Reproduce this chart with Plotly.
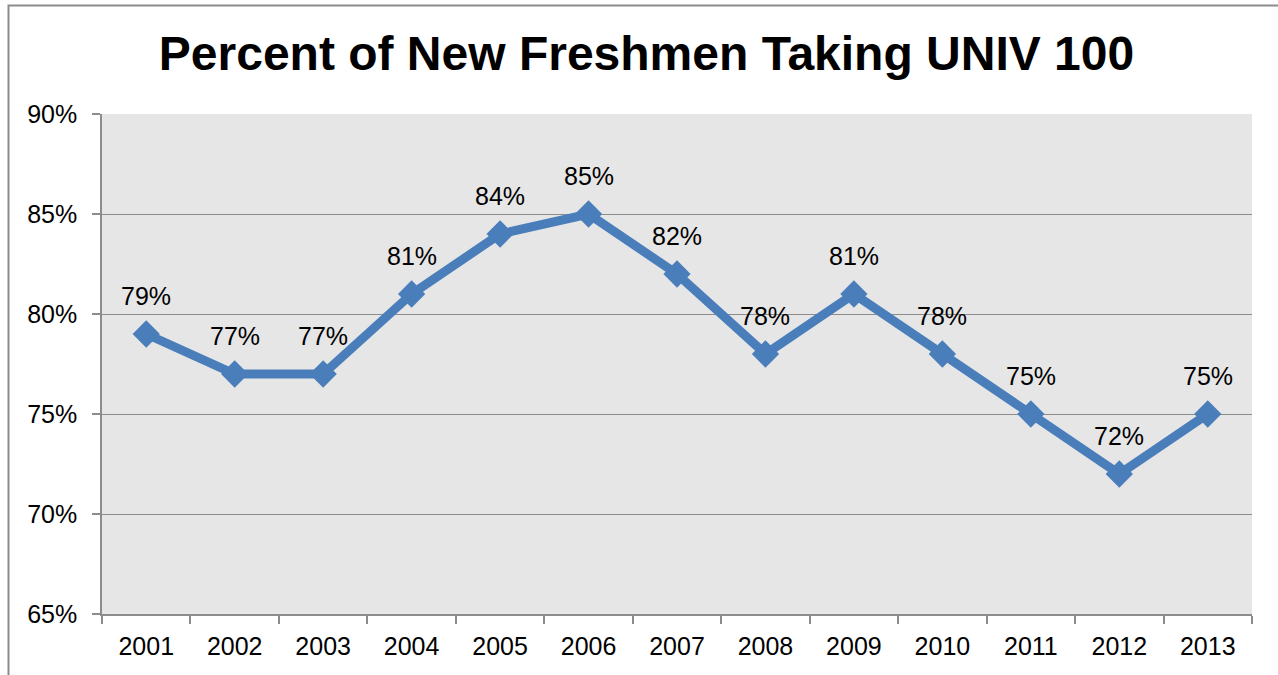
import plotly.graph_objects as go

years = ["2001", "2002", "2003", "2004", "2005", "2006", "2007",
         "2008", "2009", "2010", "2011", "2012", "2013"]
pct = [79, 77, 77, 81, 84, 85, 82, 78, 81, 78, 75, 72, 75]
labels = [f"{v}%" for v in pct]
y_ticks = [65, 70, 75, 80, 85, 90]
y_ticktext = [f"{v}%" for v in y_ticks]

W, H = 1278, 675
L, T = 102, 114
R = W - 1252
B = H - 614

fig = go.Figure()
fig.add_trace(go.Scatter(
    x=years, y=pct, mode="lines+markers",
    line=dict(color="#4A7EBB", width=9),
    marker=dict(symbol="diamond", size=21, color="#4A7EBB"),
    showlegend=False, hoverinfo="skip",
))

for i, (y, t) in enumerate(zip(pct, labels)):
    fig.add_annotation(x=i, y=y, text=t, showarrow=False, yshift=38,
                       xref="x", yref="y",
                       font=dict(family="Liberation Sans, Arial", size=25, color="#000000"))

pw = W - L - R
ph = H - T - B
bx, by = 8.5, 5.5
fig.add_shape(type="rect", xref="paper", yref="paper",
              x0=(bx - L) / pw, x1=(W + 30 - L) / pw,
              y0=-(H + 30 - (H - B)) / ph, y1=((H - B) - by) / ph,
              line=dict(color="#8C8C8C", width=2), fillcolor="rgba(0,0,0,0)", layer="below")

fig.update_layout(
    width=W, height=H,
    margin=dict(l=L, r=R, t=T, b=B),
    paper_bgcolor="#FFFFFF",
    plot_bgcolor="#E6E6E6",
    title=dict(text="<b>Percent of New Freshmen Taking UNIV 100</b>",
               x=646.5 / W, xanchor="center", xref="container",
               y=1 - 53 / H, yanchor="middle", yref="container",
               font=dict(family="Liberation Sans, Arial", size=48, color="#000000")),
    font=dict(family="Liberation Sans, Arial", size=25, color="#000000"),
    xaxis=dict(type="category", showgrid=False, showline=True, linecolor="#8C8C8C", linewidth=1.5,
               ticks="outside", ticklen=8, tickcolor="#8C8C8C", tickwidth=1.5,
               tickson="boundaries", ticklabelstandoff=9,
               tickfont=dict(size=25, color="#000000"), range=[-0.5, 12.5], zeroline=False),
    yaxis=dict(range=[65, 90], tickvals=y_ticks, ticktext=y_ticktext,
               showgrid=True, gridcolor="#8C8C8C", gridwidth=1.2,
               showline=True, linecolor="#8C8C8C", linewidth=1.5,
               ticks="outside", ticklen=8, tickcolor="#8C8C8C", tickwidth=1.5,
               ticklabelstandoff=10, zeroline=False,
               tickfont=dict(size=25, color="#000000")),
)

fig.write_html("out.html",
               config={"displayModeBar": False},
               post_script="document.body.style.margin='0px';document.body.style.overflow='hidden';")
